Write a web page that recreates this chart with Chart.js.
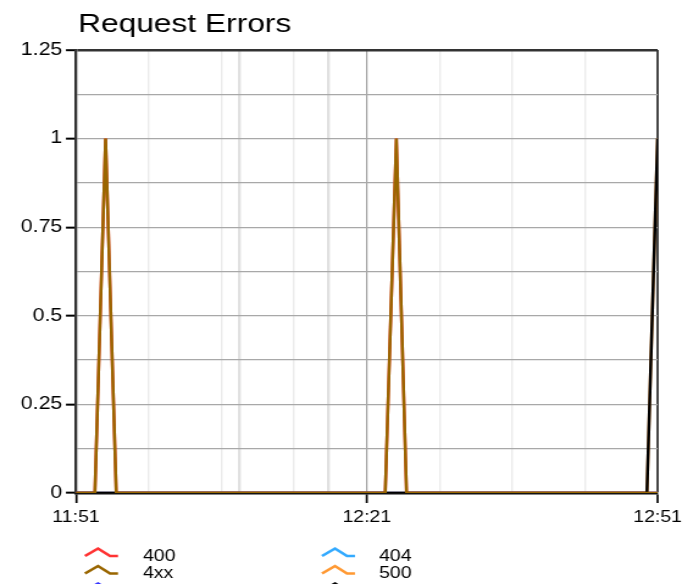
<!DOCTYPE html>
<html lang="en">
<head>
  <meta charset="UTF-8" />
  <title>Request Errors</title>
  <script src="https://cdn.jsdelivr.net/npm/chart.js"></script>
  <style>
    html, body { margin: 0; padding: 0; background: #fff; overflow: hidden; }
    /* the reference is drawn narrow and stretched sideways */
    .wrap { width: 573px; height: 584px; transform: scaleX(1.22); transform-origin: 0 0; }
  </style>
</head>
<body>
  <div class="wrap"><canvas id="errChart" width="573" height="584"></canvas></div>

  <script>
    // minutes after 11:51
    const times  = [0, 1.95, 3.05, 4.15, 31.9, 33.05, 34.1, 58.9, 60];
    const err400 = [0, 0, 1, 0, 0, 1, 0, 0, 0];
    const err404 = [0, 0, 0, 0, 0, 0, 0, 0, 0];
    const err4xx = [0, 0, 1, 0, 0, 1, 0, 0, 0];
    const err500 = [0, 0, 0, 0, 0, 0, 0, 0, 1];
    const err503 = [0, 0, 0, 0, 0, 0, 0, 0, 0];
    const err5xx = [0, 0, 0, 0, 0, 0, 0, 0, 1];

    const xTickMinutes = [0, 30, 60];
    const xTickLabels  = ['11:51', '12:21', '12:51'];
    const markerMinutes = [16.9, 26];
    const yTicks = [0, 0.25, 0.5, 0.75, 1, 1.25];

    const SX = 1.22;
    const FONT = '"Liberation Sans", Arial, sans-serif';

    function pts(vals) {
      return vals.map((v, i) => ({ x: times[i], y: v }));
    }

    function series(label, vals, color, order) {
      return {
        label: label,
        data: pts(vals),
        borderColor: color,
        backgroundColor: color,
        borderWidth: 2.5,
        pointRadius: 0,
        tension: 0,
        order: order
      };
    }

    const datasets = [
      series('400', err400, '#ff3333', 2),
      series('404', err404, '#33aaff', 3),
      series('4xx', err4xx, '#996600', 1),
      series('500', err500, '#ff9933', 2),
      series('503', err503, '#3333ff', 3),
      series('5xx', err5xx, '#000000', 1)
    ];

    const titlePlugin = {
      id: 'titleText',
      afterDraw(chart) {
        const ctx = chart.ctx;
        ctx.save();
        ctx.fillStyle = '#000';
        ctx.font = '26px ' + FONT;
        ctx.textBaseline = 'alphabetic';
        ctx.fillText('Request Errors', 78 / SX, 32);
        ctx.restore();
      }
    };

    // two-column legend below the axis, cut off by the canvas edge like the original
    const legendPlugin = {
      id: 'twoColLegend',
      afterDraw(chart) {
        const ctx = chart.ctx;
        const colIcon = [85, 322];
        const colText = [143, 379];
        const rowY = [554, 571.5, 589];
        ctx.save();
        ctx.font = '16px ' + FONT;
        ctx.textBaseline = 'alphabetic';
        ctx.lineJoin = 'miter';
        datasets.forEach((ds, i) => {
          const col = i % 2, row = Math.floor(i / 2);
          const x0 = colIcon[col] / SX, y = rowY[row];
          ctx.strokeStyle = ds.borderColor;
          ctx.lineWidth = 2.6;
          ctx.beginPath();
          ctx.moveTo(x0, y + 2);
          ctx.lineTo(x0 + 13 / SX, y - 5.5);
          ctx.lineTo(x0 + 25 / SX, y + 2);
          ctx.lineTo(x0 + 33 / SX, y + 2);
          ctx.stroke();
          ctx.fillStyle = '#000';
          ctx.fillText(ds.label, colText[col] / SX, y + 6.5);
        });
        ctx.restore();
      }
    };

    new Chart(document.getElementById('errChart'), {
      type: 'line',
      data: { datasets: datasets },
      options: {
        responsive: false,
        devicePixelRatio: 1,
        animation: false,
        layout: { padding: { top: 50, right: 34, bottom: 0, left: 0 } },
        plugins: {
          legend: { display: false },
          tooltip: { enabled: false },
          title: { display: false }
        },
        scales: {
          x: {
            type: 'linear',
            min: 0,
            max: 60,
            afterFit(scale) { scale.height = 91; },
            afterBuildTicks(scale) {
              markerMinutes.forEach(m => scale.ticks.push({ value: m }));
              scale.ticks.sort((a, b) => a.value - b.value);
            },
            ticks: {
              stepSize: 7.5,
              autoSkip: false,
              maxRotation: 0,
              padding: 5,
              color: '#000',
              font: { family: FONT, size: 16 },
              callback: v => {
                const k = xTickMinutes.indexOf(v);
                return k >= 0 ? xTickLabels[k] : '';
              }
            },
            grid: {
              color: c => {
                const v = c.tick ? c.tick.value : -1;
                if (v === 0) return 'rgba(0,0,0,0)';
                if (v === 30) return '#a0a0a0';
                if (v === 60) return '#444444';
                if (markerMinutes.includes(v)) return '#e0e0e0';
                return '#ebebeb';
              },
              lineWidth: c => {
                const v = c.tick ? c.tick.value : -1;
                if (v === 60) return 2;
                if (markerMinutes.includes(v)) return 2.4;
                if (v === 30) return 1.2;
                return 1.4;
              },
              tickColor: c => (c.tick && xTickMinutes.includes(c.tick.value)) ? '#000' : 'rgba(0,0,0,0)',
              tickWidth: 1.7,
              tickLength: 10
            },
            border: { color: '#111', width: 2.4 }
          },
          y: {
            min: 0,
            max: 1.25,
            afterFit(scale) { scale.width = 76 / SX; },
            ticks: {
              stepSize: 0.125,
              autoSkip: false,
              padding: 3,
              color: '#000',
              font: { family: FONT, size: 17.5 },
              callback: v => yTicks.includes(v) ? String(v) : ''
            },
            grid: {
              color: c => {
                const v = c.tick ? c.tick.value : -1;
                if (v === 1.25) return '#333333';
                if (v === 0) return 'rgba(0,0,0,0)';
                return '#a8a8a8';
              },
              lineWidth: c => (c.tick && c.tick.value === 1.25) ? 2.4 : 1.3,
              tickColor: c => (c.tick && yTicks.includes(c.tick.value)) ? '#000' : 'rgba(0,0,0,0)',
              tickWidth: 2,
              tickLength: 8.2
            },
            border: { color: '#333', width: 2.3 }
          }
        }
      },
      plugins: [titlePlugin, legendPlugin]
    });
  </script>
</body>
</html>
